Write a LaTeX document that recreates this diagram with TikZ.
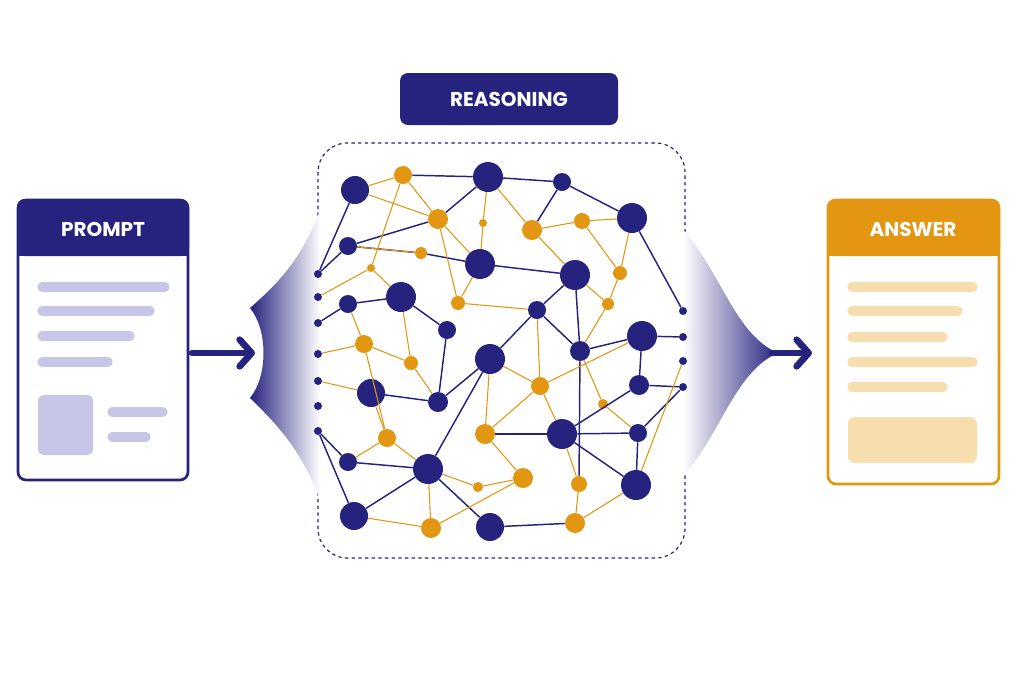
\documentclass[tikz,border=0pt]{standalone}
\usepackage{fontspec}
\setmainfont{Poppins}
\usetikzlibrary{arrows.meta}
\definecolor{navy}{HTML}{26237F}
\definecolor{gold}{HTML}{E39612}
\definecolor{lav}{HTML}{C8C6E8}
\definecolor{peach}{HTML}{F8DDAE}
\tikzset{
  nv/.style={circle, fill=navy, inner sep=0pt},
  og/.style={circle, fill=gold, inner sep=0pt},
  nedge/.style={navy, line width=1.1pt},
  oedge/.style={gold, line width=0.8pt},
  bar/.style={line width=7pt, line cap=round},
  hdr/.style={text=white, font=\bfseries\fontsize{15}{18}\selectfont},
  flow/.style={navy, line width=5pt, line cap=round,
    -{Straight Barb[length=9pt, width=20pt, line cap=round, line join=round]}}
}
\begin{document}
\begin{tikzpicture}[x=0.75pt, y=-0.75pt]
  \useasboundingbox (0,0) rectangle (1024,683);

  % Prompt card
  \draw[navy, line width=2pt, fill=white, rounded corners=6pt] (18,200) rectangle (188,480);
  \fill[navy, rounded corners=6pt] (17,199) rectangle (189,256);
  \fill[navy] (17,240) rectangle (189,256);
  \node[hdr] (prompt) at (103,229) {PROMPT};
  \foreach \y/\l in {287/165, 311/150, 336/130, 362/108}
    \draw[lav, bar] (42,\y) -- (\l,\y);
  \fill[lav, rounded corners=4pt] (38,395) rectangle (93,455);
  \draw[lav, bar] (112,412) -- (163,412);
  \draw[lav, bar] (112,437) -- (146,437);

  % Answer card
  \draw[gold, line width=2pt, fill=white, rounded corners=6pt] (828,200) rectangle (999,484);
  \fill[gold, rounded corners=6pt] (827,199) rectangle (1000,256);
  \fill[gold] (827,240) rectangle (1000,256);
  \node[hdr] (answer) at (913,229) {ANSWER};
  \foreach \y/\l in {287/973, 311/958, 337/943, 362/973, 387/943}
    \draw[peach, bar] (852,\y) -- (\l,\y);
  \fill[peach, rounded corners=5pt] (848,417) rectangle (977,463);

  % Reasoning label and frame
  \fill[navy, rounded corners=6pt] (400,73) rectangle (618,125);
  \node[hdr] (reason) at (509,99) {REASONING};
  \draw[navy, dashed, line width=0.9pt, dash pattern=on 2.5pt off 2.5pt, rounded corners=22pt]
    (318,143) rectangle (685,558);

  % Funnels
  \shade[left color=navy, right color=white]
    (320,210) .. controls (300,265) and (270,290) .. (250,308)
    .. controls (268,330) and (268,376) .. (250,398)
    .. controls (270,418) and (300,445) .. (320,500) -- cycle;
  \shade[left color=white, right color=navy]
    (683,230) .. controls (720,270) and (735,335) .. (778,353)
    .. controls (735,371) and (720,436) .. (683,476) -- cycle;
  \coordinate (pin) at (192,353);
  \coordinate (pout) at (255,353);
  \coordinate (ain) at (772,353);
  \coordinate (aout) at (812,353);
  \draw[flow] (pin) -- (pout);
  \draw[flow] (ain) -- (aout);

  % Network nodes
  \foreach \n/\x/\y/\r in {A/355/190/14, B/488/177/15, C/562/182/9, D/632/218/15,
      E/348/246/9, F/480/264/15, G/575/275/15, H/401/297/15, I/348/304/9,
      J/537/310/9, K/447/330/9, L/642/336/15, M/580/351/10, N/490/359/15,
      O/371/393/14, P/438/402/10, Q/639/385/10, R/562/434/15, S/638/433/9,
      T/348/462/9, U/428/469/15, V/636/485/15, W/354/516/14, X/490/527/14}
    \node[nv, minimum size=1.5*\r pt] (\n) at (\x,\y) {};
  \foreach \n/\x/\y/\r in {a/403/175/9, b/438/219/10, c/483/223/4, d/532/230/10,
      e/582/221/8, f/421/253/6, g/371/268/4, h/620/273/7, i/458/303/7,
      j/608/304/6, k/364/344/9, l/411/363/7, m/540/386/9, n/603/404/5,
      o/387/438/9, p/485/434/10, q/523/478/10, r/579/484/8, s/478/487/5,
      t/431/528/10, u/575/523/10}
    \node[og, minimum size=1.5*\r pt] (\n) at (\x,\y) {};
  \foreach \n/\y in {l1/274, l2/297, l3/323, l4/354, l5/381, l6/406, l7/431}
    \node[nv, minimum size=6pt] (\n) at (318,\y) {};
  \foreach \n/\y in {r1/311, r2/337, r3/361, r4/387}
    \node[nv, minimum size=6pt] (\n) at (683,\y) {};

  % Connectors
  \foreach \s/\t in {A/l1, a/B, B/C, C/D, C/d, D/r1, B/b, f/F, F/G, G/J, G/M,
      H/I, H/K, K/P, J/M, J/N, M/L, L/r2, L/Q, Q/R, Q/r4, M/r, R/V, R/S,
      S/r4, O/P, P/N, U/T, U/X, U/N, X/u, W/l7, W/U, I/l3, E/l1, E/f, T/l7,
      R/p, V/S, E/b}
    \draw[nedge] (\s) -- (\t);
  \foreach \s/\t in {A/a, A/b, a/g, a/b, f/E, b/F, c/B, c/F, B/d, d/e, e/D,
      d/G, h/D, h/j, j/G, j/M, i/F, i/b, k/I, k/l4, k/l, k/o, l/H, m/N, m/J,
      m/R, m/L, p/N, p/m, q/p, r/R, r/u, u/V, t/W, t/q, t/U, o/T, o/O, O/l5,
      o/U, V/r3, n/M, n/S, g/l2, H/g, s/q, s/U, i/J, l/P, e/h}
    \draw[oedge] (\s) -- (\t);
\end{tikzpicture}
\end{document}
